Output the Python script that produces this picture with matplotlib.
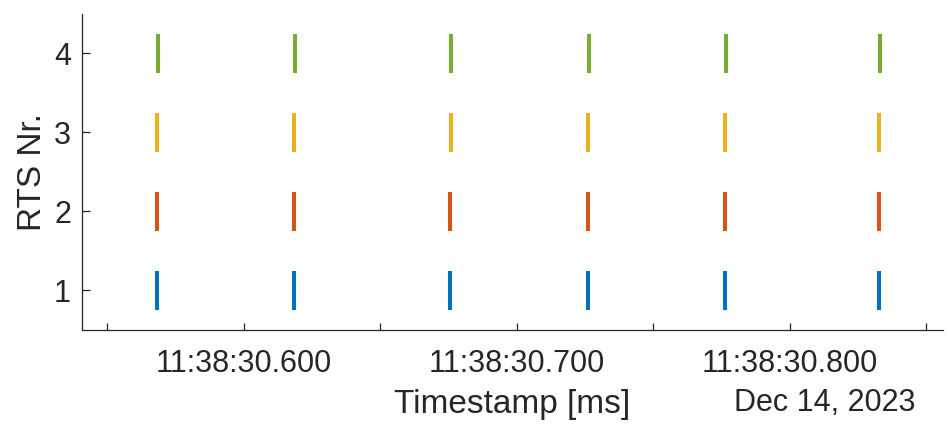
import matplotlib
matplotlib.use('Agg')
import matplotlib.pyplot as plt
import matplotlib.dates as mdates
import matplotlib.ticker as mticker
import pandas as pd

# event timestamps (seconds part after 11:38:30) per RTS row
day = '2023-12-14 11:38:'
rts_nr = [1, 2, 3, 4]
rts_events = [
    ['30.5681', '30.6184', '30.6756', '30.7260', '30.7763', '30.8327'],
    ['30.5681', '30.6184', '30.6756', '30.7260', '30.7763', '30.8327'],
    ['30.5683', '30.6186', '30.6758', '30.7262', '30.7765', '30.8329'],
    ['30.5685', '30.6188', '30.6760', '30.7264', '30.7767', '30.8331'],
]
colors = ['#0072BD', '#D95319', '#EDB120', '#77AC30']
x_ticks = ['30.550', '30.600', '30.650', '30.700', '30.750', '30.800', '30.850']
x_range = ['30.5408', '30.8562']

plt.rcParams['font.family'] = ['Liberation Sans', 'DejaVu Sans']
txt = '#262626'

fig = plt.figure(figsize=(9.49, 4.33), dpi=100)
ax = fig.add_axes([0.0864, 0.2379, 0.9073, 0.7298])

positions = [mdates.date2num(pd.to_datetime([day + s for s in row])) for row in rts_events]
ax.eventplot(positions, lineoffsets=rts_nr, linelengths=0.5,
             colors=colors, linewidths=2.9)

tick_nums = mdates.date2num(pd.to_datetime([day + s for s in x_ticks]))
ax.xaxis.set_major_locator(mticker.FixedLocator(tick_nums))
labels = []
for s in x_ticks:
    ms = int(round(float(s) * 1000)) % 100
    labels.append('11:38:' + s if ms == 0 else '')
ax.xaxis.set_major_formatter(mticker.FixedFormatter(labels))
lim = mdates.date2num(pd.to_datetime([day + s for s in x_range]))
ax.set_xlim(lim[0], lim[1])

ax.set_ylim(0.5, 4.5)
ax.set_yticks(rts_nr)

for side in ['top', 'right']:
    ax.spines[side].set_visible(False)
for side in ['left', 'bottom']:
    ax.spines[side].set_color(txt)
    ax.spines[side].set_linewidth(0.9)

ax.tick_params(axis='x', direction='in', length=5, width=0.9, colors=txt,
               labelsize=22, pad=14)
ax.tick_params(axis='y', direction='in', length=6, width=0.9, colors=txt,
               labelsize=22, pad=8)

ax.set_ylabel('RTS Nr.', fontsize=24, color=txt, labelpad=4)
ax.set_xlabel('Timestamp [ms]', fontsize=24, color=txt, labelpad=7)
fig.text(915 / 949, 1 - 411 / 433, 'Dec 14, 2023', fontsize=22, color=txt,
         ha='right', va='baseline')

fig.savefig('out.png', dpi=100)
